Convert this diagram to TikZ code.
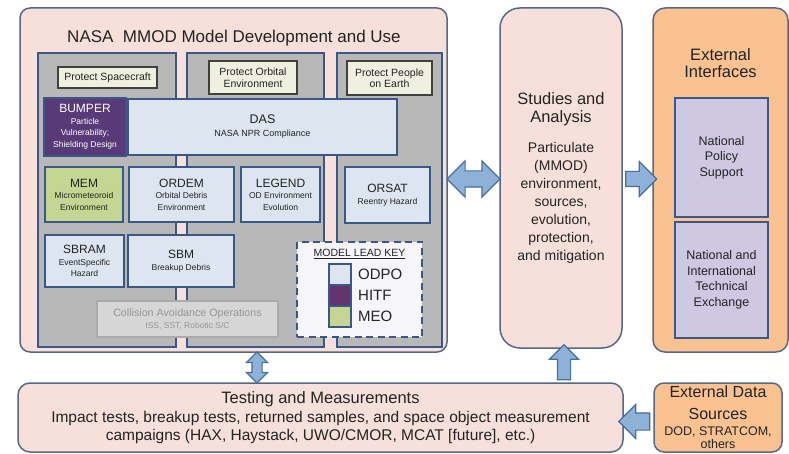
\documentclass[tikz,border=0pt]{standalone}
\usepackage{fontspec}
\setmainfont{Liberation Sans}
\usepackage{tikz}
\usepackage{xcolor}
\usetikzlibrary{shapes.arrows, calc}
\definecolor{pinkcolor}{RGB}{247,224,218}
\definecolor{framecolor}{RGB}{85,105,135}
\definecolor{bordercolor}{RGB}{58,88,135}
\definecolor{graycolor}{RGB}{184,184,184}
\definecolor{lightbluecolor}{RGB}{220,229,240}
\definecolor{purplecolor}{RGB}{88,58,120}
\definecolor{hitfcolor}{RGB}{100,50,110}
\definecolor{greencolor}{RGB}{196,214,146}
\definecolor{creamcolor}{RGB}{240,240,224}
\definecolor{darkcolor}{RGB}{65,65,60}
\definecolor{ghostfill}{RGB}{214,214,214}
\definecolor{ghostline}{RGB}{170,170,170}
\definecolor{ghosttext}{RGB}{150,150,150}
\definecolor{keyfill}{RGB}{246,246,250}
\definecolor{orangecolor}{RGB}{250,194,145}
\definecolor{lavendercolor}{RGB}{207,200,226}
\definecolor{arrowcolor}{RGB}{142,177,216}
\definecolor{arrowline}{RGB}{70,110,160}
\definecolor{textcolor}{RGB}{35,35,35}

\newcommand{\fsz}[2]{\fontsize{#1}{#2}\selectfont}

\tikzset{
  panel/.style={draw=framecolor, line width=1.5pt, fill=pinkcolor, rounded corners=10pt, inner sep=0pt, align=center, text=textcolor},
  column/.style={draw=bordercolor, line width=2pt, fill=graycolor, inner sep=0pt},
  goalbox/.style={draw=darkcolor, line width=1.3pt, fill=creamcolor, inner sep=0pt, align=center, text=textcolor, font=\fsz{10.5}{11.5}},
  modelbox/.style={draw=bordercolor, line width=2pt, fill=lightbluecolor, inner sep=0pt, align=center, text=textcolor, font=\fsz{8.5}{11.5}},
  swatch/.style={draw=bordercolor, line width=2pt, minimum width=22, minimum height=21, inner sep=0pt},
  keylabel/.style={anchor=west, inner sep=0pt, text=textcolor, font=\fsz{15}{16}},
  outerbox/.style={draw=bordercolor, line width=2pt, fill=lavendercolor, inner sep=0pt, align=center, text=textcolor, font=\fsz{12.5}{15.5}},
  fatarrow/.style={draw=arrowline, fill=arrowcolor, line width=1.2pt}
}

\begin{document}
\begin{tikzpicture}[x=1pt, y=-1pt] % One unit is one pixel of the picture, y runs down.
    \useasboundingbox (0,0) rectangle (789,454);

    % Model development panel
    \node[panel, minimum width=427, minimum height=344] (main) at (233.5,180) {};
    \node[text=textcolor, font=\fsz{17}{20}] (title) at (234,38) {NASA\ \ MMOD Model Development and Use};

    % Gray columns, one for each goal
    \node[column, minimum width=138, minimum height=294] (colA) at (107,200) {};
    \node[column, minimum width=137, minimum height=294] (colB) at (255.5,200) {};
    \node[column, minimum width=105, minimum height=294] (colC) at (389.5,200) {};

    % Goals
    \node[goalbox, minimum width=99, minimum height=21] (goalA) at (107.5,77.5) {Protect Spacecraft};
    \node[goalbox, minimum width=88, minimum height=33] (goalB) at (253,77.5) {Protect Orbital\\Environment};
    \node[goalbox, minimum width=85, minimum height=34] (goalC) at (389.5,78) {Protect People\\on Earth};

    % Models
    \node[modelbox, fill=purplecolor, text=white, minimum width=82, minimum height=58] (bumper) at (85,127) {\fsz{12}{13}BUMPER\\Particle\\Vulnerability;\\Shielding Design};
    \node[modelbox, minimum width=269, minimum height=56] (das) at (262.5,127) {\fsz{12.5}{14}DAS\\[1.5pt]\fsz{9}{10}NASA NPR Compliance};
    \node[modelbox, fill=greencolor, minimum width=78, minimum height=55] (mem) at (84,194.5) {\fsz{12}{13}MEM\\Micrometeoroid\\Environment};
    \node[modelbox, minimum width=105, minimum height=55] (ordem) at (181.5,194.5) {\fsz{12}{13}ORDEM\\Orbital Debris\\Environment};
    \node[modelbox, minimum width=79, minimum height=55] (legend) at (280.5,194.5) {\fsz{12}{13}LEGEND\\OD Environment\\Evolution};
    \node[modelbox, minimum width=85, minimum height=56] (orsat) at (387.5,195) {\fsz{12}{13}ORSAT\\Reentry Hazard};
    \node[modelbox, minimum width=79, minimum height=52] (sbram) at (84.5,261) {\fsz{12}{13}SBRAM\\EventSpecific\\Hazard};
    \node[modelbox, minimum width=106, minimum height=52] (sbm) at (181,261) {\fsz{12}{13}SBM\\Breakup Debris};
    \node[modelbox, draw=ghostline, line width=1.5pt, fill=ghostfill, text=ghosttext, minimum width=181, minimum height=36] (cao) at (187.5,319) {\fsz{10.7}{12}Collision Avoidance Operations\\ISS, SST, Robotic S/C};

    % Model lead key
    \node[draw=bordercolor, line width=2pt, dash pattern=on 7pt off 4.5pt, fill=keyfill, minimum width=125, minimum height=95, inner sep=0pt] (key) at (359.5,289.5) {};
    \node[text=textcolor, font=\fsz{10.5}{12}] (keytitle) at (359.5,254) {\underline{MODEL LEAD KEY}};
    \node[swatch, fill=lightbluecolor] (odpo) at (340,274.5) {};
    \node[swatch, fill=hitfcolor] (hitf) at (340,295.5) {};
    \node[swatch, fill=greencolor] (meo) at (340,316.5) {};
    \node[keylabel] (odpolabel) at (358,274) {ODPO};
    \node[keylabel] (hitflabel) at (358,295) {HITF};
    \node[keylabel] (meolabel) at (358,316) {MEO};

    % Studies and analysis
    \node[panel, rounded corners=20pt, minimum width=122, minimum height=340, font=\fsz{14}{18}] (study) at (561,178) {\fsz{16.5}{18}Studies and\\\fsz{16.5}{18}Analysis\\[12pt]Particulate\\(MMOD)\\environment,\\sources,\\evolution,\\protection,\\and mitigation};

    % External interfaces
    \node[panel, fill=orangecolor, rounded corners=12pt, minimum width=135, minimum height=344] (ext) at (720.5,180) {};
    \node[text=textcolor, align=center, font=\fsz{16.5}{17}] (exttitle) at (720.5,63.5) {External\\Interfaces};
    \node[outerbox, minimum width=93, minimum height=119] (policy) at (721.5,157.5) {National\\Policy\\Support};
    \node[outerbox, minimum width=93, minimum height=116] (exchange) at (721.5,280) {National and\\International\\Technical\\Exchange};

    % Testing and external data
    \node[panel, rounded corners=12pt, minimum width=605, minimum height=69, font=\fsz{15.5}{18.5}] (test) at (320.5,417.5) {\fsz{16.5}{18}Testing and Measurements\\[0.5pt]Impact tests, breakup tests, returned samples, and space object measurement\\campaigns (HAX, Haystack, UWO/CMOR, MCAT [future], etc.)};
    \node[panel, fill=orangecolor, rounded corners=10pt, minimum width=128, minimum height=69, font=\fsz{12.5}{12.5}] (extdata) at (718,417.5) {\fsz{16}{17}External Data\\[9pt]\fsz{16}{17}Sources\\[4pt]DOD, STRATCOM,\\others};

    % Block arrows (inner sep is half the shaft)
    \node[fatarrow, double arrow, inner sep=7.5, double arrow head extend=10, minimum height=53] (mainstudy) at ($(main.east)!0.5!(study.west)$) {};
    \node[fatarrow, single arrow, inner sep=7, single arrow head extend=10, minimum height=31] (studyext) at ($(study.east)!0.5!(ext.west)$) {};
    \node[fatarrow, double arrow, inner sep=4.5, double arrow head extend=5.5, minimum height=31, shape border rotate=90] (maintest) at ($(main.south)!0.5!(test.north) + (-20,0)$) {};
    \node[fatarrow, single arrow, inner sep=6, single arrow head extend=8, minimum height=35, shape border rotate=90] (teststudy) at ($(study.south)!0.5!(study.south |- test.north) + (3,0)$) {};
    \node[fatarrow, single arrow, inner sep=8, single arrow head extend=8.5, minimum height=31, shape border rotate=180] (datatest) at ($(extdata.west)!0.5!(test.east) + (0,4)$) {};

\end{tikzpicture}
\end{document}
